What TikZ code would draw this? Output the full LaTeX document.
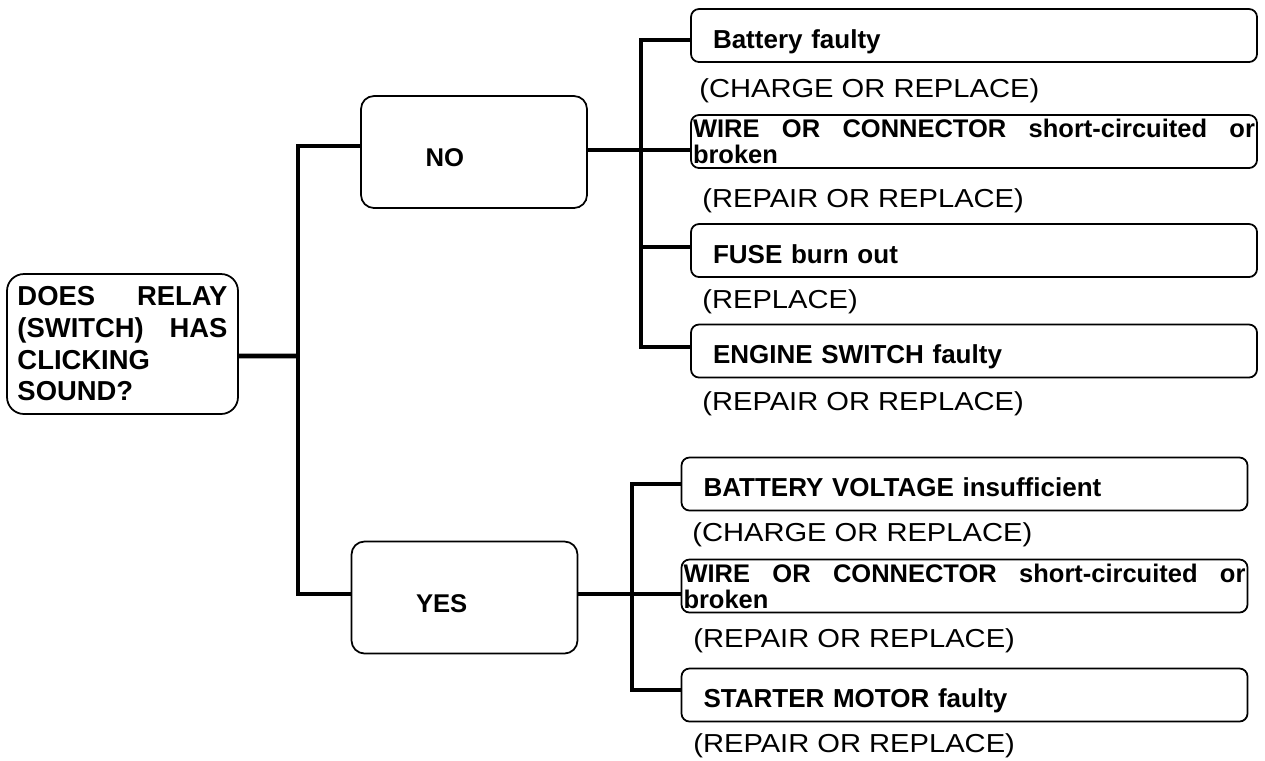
\documentclass[tikz,border=0pt]{standalone}
\usepackage{fontspec}
\setmainfont{Liberation Sans}
\newfontfamily\notefont{Liberation Sans}[FakeStretch=1.12]
\usepackage{tikz}

\begin{document}
\begin{tikzpicture}[
    link/.style={line width=2.8pt, line join=miter},
    qbox/.style={draw, line width=1pt, rounded corners=0.34cm, minimum width=4.62cm, minimum height=2.8cm, text width=4.2cm, inner xsep=0.21cm, align=left, font=\fontsize{15.6}{18}\selectfont\bfseries},
    ans/.style={draw, line width=1pt, rounded corners=0.26cm, minimum width=4.52cm, minimum height=2.24cm, text width=4.12cm, inner xsep=0.2cm, align=left, text height=0.58cm, text depth=0pt, font=\fontsize{14.6}{16}\selectfont\bfseries},
    cause/.style={draw, line width=1pt, rounded corners=0.16cm, minimum width=11.32cm, minimum height=1.06cm, align=left},
    fault/.style={cause, text width=10.44cm, inner xsep=0.44cm, text height=0.5cm, text depth=0pt, font=\fontsize{14.8}{16}\selectfont\bfseries},
    fault2/.style={cause, text width=11.24cm, inner xsep=0.04cm, inner ysep=0pt, font=\fontsize{14.5}{14.8}\selectfont\bfseries},
    note/.style={anchor=base west, inner sep=0pt, font=\notefont\fontsize{14.8}{16}\selectfont}
]
    \useasboundingbox (0,0) rectangle (25.3,-15.2);

    % question and answers
    \node[qbox] (root) at (2.45,-6.88) {DOES\hfill RELAY\\(SWITCH)\hfill HAS\\CLICKING\\SOUND?};
    \node[ans] (no) at (9.48,-3.04) {\hspace*{1.09cm}NO};
    \node[ans] (yes) at (9.29,-11.95) {\hspace*{1.09cm}YES};

    % causes when there is no click
    \node[fault] (bat) at (19.48,-0.71) {Battery faulty};
    \node[fault2] (wire1) at (19.48,-2.83) {WIRE\hfill OR\hfill CONNECTOR\hfill \mbox{short-circuited}\hfill or\\broken};
    \node[fault] (fuse) at (19.48,-5.01) {FUSE burn out};
    \node[fault] (eng) at (19.48,-7.02) {ENGINE SWITCH faulty};
    \node[note] (chg1) at (13.98,-1.94) {(CHARGE OR REPLACE)};
    \node[note] (rep1) at (14.04,-4.14) {(REPAIR OR REPLACE)};
    \node[note] (rpl) at (14.04,-6.16) {(REPLACE)};
    \node[note] (rep2) at (14.04,-8.2) {(REPAIR OR REPLACE)};

    % causes when it clicks
    \node[fault] (volt) at (19.29,-9.68) {BATTERY VOLTAGE insufficient};
    \node[fault2] (wire2) at (19.29,-11.72) {WIRE\hfill OR\hfill CONNECTOR\hfill \mbox{short-circuited}\hfill or\\broken};
    \node[fault] (starter) at (19.29,-13.9) {STARTER MOTOR faulty};
    \node[note] (chg2) at (13.84,-10.82) {(CHARGE OR REPLACE)};
    \node[note] (rep3) at (13.86,-12.94) {(REPAIR OR REPLACE)};
    \node[note] (rep4) at (13.86,-15.04) {(REPAIR OR REPLACE)};

    % tree lines
    \coordinate (trunk) at (5.96,-7.12);
    \coordinate (nbus) at (12.82,-3.0);
    \coordinate (ybus) at (12.64,-11.88);
    \draw[link] ([yshift=-0.24cm]root.east) -- (trunk);
    \draw[link] ([yshift=0.12cm]no.west) -| (trunk) |- ([yshift=0.07cm]yes.west);
    \draw[link] ([yshift=-0.09cm]bat.west) -| (nbus) |- ([yshift=0.08cm]eng.west);
    \draw[link] ([yshift=0.07cm]fuse.west -| nbus) -- ([yshift=0.07cm]fuse.west);
    \draw[link] ([yshift=0.04cm]no.east) -- ([yshift=0.04cm]no.east -| wire1.west);
    \draw[link] (volt.west) -| (ybus) |- ([yshift=0.1cm]starter.west);
    \draw[link] ([yshift=0.07cm]yes.east) -- ([yshift=0.07cm]yes.east -| wire2.west);
\end{tikzpicture}
\end{document}
